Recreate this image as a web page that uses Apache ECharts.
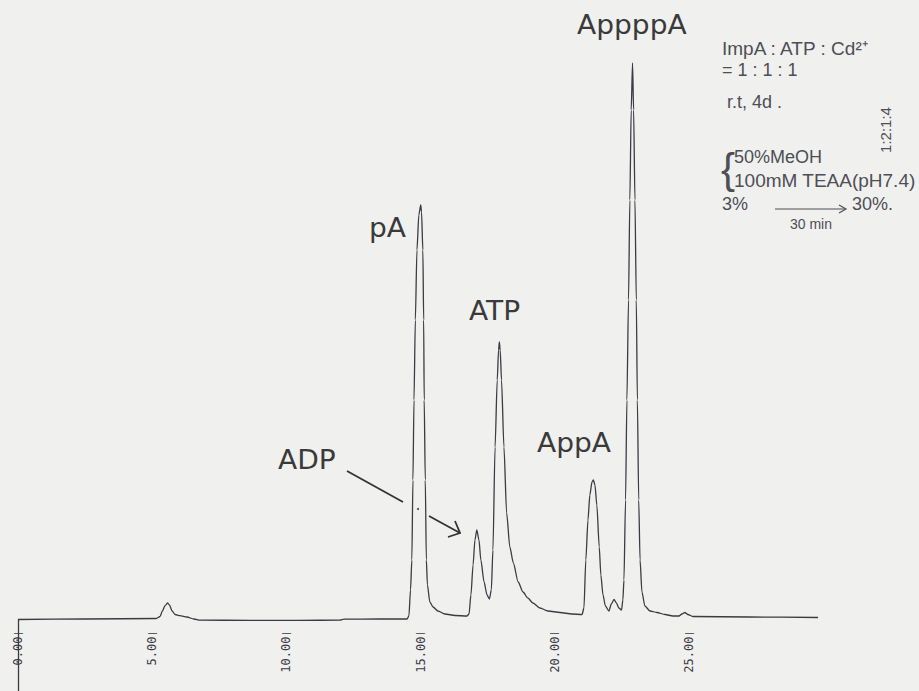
<!DOCTYPE html>
<html><head><meta charset="utf-8">
<script src="https://cdn.jsdelivr.net/npm/echarts@6/dist/echarts.min.js"></script>
<style>html,body{margin:0;padding:0;background:#f0f0ef}#c{width:919px;height:691px}</style>
</head><body><div id="c"></div>
<script>
// Retention time (min) and detector signal (arbitrary units)
const retentionTime = [
  0.00, 2.50, 5.15, 5.29, 5.38, 5.47, 5.57, 5.64, 5.74, 5.85, 6.03, 6.29, 6.55, 6.78, 8.64, 10.50, 11.99, 12.14, 13.48, 14.49,
  14.56, 14.62, 14.67, 14.71, 14.75, 14.80, 14.86, 14.93, 15.00, 15.03, 15.08, 15.11, 15.13, 15.17, 15.21, 15.25, 15.34, 15.46, 15.64, 15.90, 16.28, 16.72,
  16.80, 16.87, 16.95, 17.02, 17.09, 17.17, 17.24, 17.36, 17.47, 17.56, 17.63,
  17.69, 17.77, 17.85, 17.90, 17.93, 17.96, 18.01, 18.10, 18.20, 18.32, 18.45, 18.63, 18.81, 18.99, 19.18, 19.44, 19.74, 20.19, 20.63, 21.01,
  21.08, 21.15, 21.23, 21.30, 21.38, 21.43, 21.49, 21.56, 21.65, 21.71, 21.79, 21.88, 22.01, 22.10, 22.20, 22.29, 22.38, 22.48, 22.53,
  22.57, 22.63, 22.68, 22.74, 22.79, 22.84, 22.89, 22.93, 22.98, 23.03, 23.07, 23.12, 23.17, 23.24, 23.35, 23.54, 23.80, 24.10, 24.39, 24.62, 24.73, 24.84, 24.95, 25.14, 27.26, 29.80
];
const signal = [
  -0.1, 0.0, 0.1, 0.5, 1.6, 2.6, 3.2, 2.8, 1.6, 0.9, 0.66, 0.4, 0.0, -0.24, -0.26, -0.26, -0.24, -0.04, 0.0, 0.0,
  0.6, 5.8, 11.8, 27.8, 43.8, 59.8, 73.8, 80.8, 82.8, 81.4, 73.8, 59.8, 43.8, 27.8, 11.8, 6.8, 3.4, 2.4, 1.6, 1.0, 0.7, 0.6,
  1.0, 4.8, 10.8, 15.8, 17.8, 15.8, 11.8, 7.4, 4.8, 4.0, 5.8,
  13.8, 34.4, 47.8, 53.8, 55.4, 53.8, 47.8, 34.4, 21.2, 14.4, 11.2, 7.4, 5.4, 4.2, 3.2, 2.2, 1.6, 1.3, 1.0, 0.9,
  2.2, 11.8, 19.8, 24.8, 27.4, 27.8, 26.8, 22.8, 14.4, 8.8, 4.8, 2.6, 1.6, 3.0, 3.9, 3.2, 2.2, 1.8, 3.8,
  7.8, 23.8, 43.8, 63.8, 83.8, 101.8, 111.2, 101.8, 83.8, 63.8, 43.8, 23.8, 11.8, 5.4, 2.6, 1.6, 1.3, 0.9, 0.6, 0.6, 1.0, 1.3, 0.9, 0.5, 0.4, 0.3
];
const tickValues = [0, 5, 10, 15, 20, 25];
const peakNames = ['AppppA', 'pA', 'ATP', 'AppA', 'ADP'];
const noteLines = ['ImpA : ATP : Cd\u00B2\u207A', '= 1 : 1 : 1', 'r.t, 4d .', '50%MeOH', '100mM TEAA(pH7.4)', '3%', '30%.', '30 min', '1:2:1:4'];

const points = retentionTime.map((t, i) => [t, signal[i]]);
const ink = '#3b3b42';
const labelFont = 'DejaVu Sans';
const yMin = -14.4, yMax = 123.8;

const chart = echarts.init(document.getElementById('c'), null, {renderer: 'svg'});

function label(text, x, y) {
  return {type: 'text', x: x, y: y, scaleX: 1.08, silent: true,
    style: {text: text, fontSize: 26, fontFamily: labelFont, fill: '#3a3a3a', align: 'left', verticalAlign: 'middle'}};
}
function note(text, x, y, size) {
  return {type: 'text', x: x, y: y, silent: true,
    style: {text: text, fontSize: size || 18, fontFamily: 'Liberation Sans', fill: '#4e4e55', align: 'left', verticalAlign: 'middle'}};
}
function seg(x1, y1, x2, y2, w, c) {
  return {type: 'line', silent: true, shape: {x1: x1, y1: y1, x2: x2, y2: y2},
    style: {stroke: c || '#333', lineWidth: w || 1.6}};
}

chart.setOption({
  backgroundColor: '#f0f0ef',
  animation: false,
  grid: {left: 18, right: 0, top: 0, bottom: 0, outerBoundsMode: 'none'},
  xAxis: {
    type: 'value', min: 0, max: 33.56, position: 'bottom', offset: -72,
    axisLine: {show: false, onZero: false}, axisTick: {show: false}, splitLine: {show: false},
    axisLabel: {
      customValues: tickValues, rotate: 90, margin: 12,
      formatter: v => '{n|' + v.toFixed(2) + '}{g| }{d||}',
      rich: {
        n: {fontFamily: 'DejaVu Sans Mono', fontSize: 12, color: '#3a3a44'},
        g: {fontSize: 3},
        d: {fontFamily: 'DejaVu Sans Mono', fontSize: 8, color: '#3a3a44'}
      }
    }
  },
  yAxis: {type: 'value', min: yMin, max: yMax, show: false},
  series: [{
    type: 'line', data: points, showSymbol: false, smooth: 0.25, smoothMonotone: 'x',
    lineStyle: {color: ink, width: 1.3}, silent: true,
    markLine: {
      silent: true, symbol: 'none', label: {show: false},
      lineStyle: {color: ink, width: 1.3, type: 'solid'},
      data: [[{coord: [0, 0]}, {coord: [0, yMin]}]]
    }
  }],
  graphic: [
    label(peakNames[0], 577, 25),
    label(peakNames[1], 369, 228),
    label(peakNames[2], 469, 311),
    label(peakNames[3], 537, 443),
    label(peakNames[4], 278, 460),
    // ADP arrow
    seg(347, 471, 403, 502, 1.8),
    {type: 'circle', shape: {cx: 418, cy: 509, r: 1}, style: {fill: '#444'}, silent: true},
    seg(429, 516, 460, 533, 1.8),
    {type: 'polyline', silent: true, shape: {points: [[455, 521], [460, 533], [448, 537]]}, style: {stroke: '#333', lineWidth: 1.8, fill: null}},
    // handwritten notes
    note(noteLines[0], 722, 48, 19),
    note(noteLines[1], 722, 70),
    note(noteLines[2], 727, 102),
    {type: 'text', x: 721, y: 168, silent: true, style: {text: '{', fontSize: 42, fontFamily: 'Liberation Sans', fill: '#4e4e55', align: 'left', verticalAlign: 'middle'}},
    note(noteLines[3], 734, 157),
    note(noteLines[4], 734, 180, 19),
    note(noteLines[5], 722, 204),
    seg(775, 209, 845, 209, 1.2, '#4e4e55'),
    {type: 'polyline', silent: true, shape: {points: [[839, 205], [846, 209], [839, 213]]}, style: {stroke: '#4e4e55', lineWidth: 1.2, fill: null}},
    note(noteLines[6], 852, 204),
    note(noteLines[7], 790, 224, 14),
    {type: 'text', x: 885, y: 130, rotation: Math.PI / 2, silent: true,
      style: {text: noteLines[8], fontSize: 15, fontFamily: 'Liberation Sans', fill: '#4e4e55', align: 'center', verticalAlign: 'middle'}}
  ]
});
</script></body></html>
